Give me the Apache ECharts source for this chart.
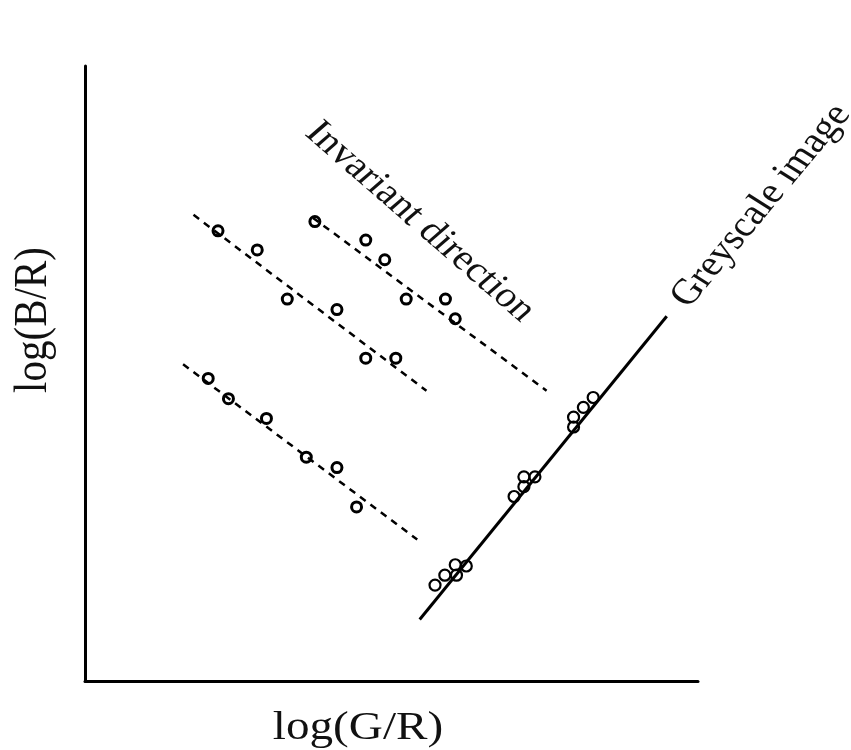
<!DOCTYPE html>
<html>
<head>
<meta charset="utf-8">
<script src="https://cdn.jsdelivr.net/npm/echarts@6/dist/echarts.min.js"></script>
<style>html,body{margin:0;padding:0;background:#fff;}#chart{width:851px;height:750px;}</style>
</head>
<body>
<div id="chart"></div>
<script>
// Data (arbitrary units, 0-100 on both axes)
var groupUpperLeft = [[21.7,73.2],[28.1,70.1],[33.0,62.1],[41.1,60.4],[45.8,52.5],[50.7,52.5]];
var lineUpperLeft = [[17.7,75.8],[55.7,47.2]];
var groupUpperRight = [[37.5,74.7],[45.8,71.7],[48.9,68.5],[52.4,62.1],[58.8,62.1],[60.4,58.9]];
var lineUpperRight = [[37.2,75.3],[75.3,47.2]];
var groupLower = [[20.1,49.2],[23.4,45.9],[29.6,42.7],[36.1,36.4],[41.1,34.7],[44.3,28.3]];
var lineLower = [[16.0,51.5],[54.2,23.0]];
var greyPoints = [[57.1,15.6],[58.7,17.2],[60.4,18.9],[60.6,17.2],[62.2,18.7],[70.0,30.0],[71.6,31.6],[71.6,33.2],[73.4,33.2],[79.7,41.3],[79.7,42.9],[81.3,44.5],[82.9,46.1]];
var greyLine = [[54.6,10.0],[94.9,59.3]];
var xAxisName = 'log(G/R)';
var yAxisName = 'log(B/R)';
var invariantLabel = 'Invariant direction';
var greyLabel = 'Greyscale image';

var FONT = "'Liberation Serif','DejaVu Serif',serif";
var SX = 1.15; // horizontal stretch of the reference

function dashed(data){
  return {type:'line', data:data, showSymbol:false, symbol:'none', silent:true, z:2,
    lineStyle:{color:'#000', width:2.5, type:[7,6], opacity:1}};
}
function pts(data, size, bw){
  return {type:'scatter', data:data, symbol:'circle', symbolSize:size, z:3, silent:true,
    itemStyle:{color:'rgba(255,255,255,0)', borderColor:'#000', borderWidth:bw, opacity:1}};
}

var chart = echarts.init(document.getElementById('chart'), null, {renderer:'canvas'});
chart.setOption({
  backgroundColor:'#fff',
  animation:false,
  grid:{left:85, right:153, top:66, bottom:69},
  xAxis:{type:'value', min:0, max:100, axisLine:{show:true, onZero:false, lineStyle:{color:'#000', width:3}},
    axisTick:{show:false}, axisLabel:{show:false}, splitLine:{show:false}},
  yAxis:{type:'value', min:0, max:100, axisLine:{show:true, onZero:false, lineStyle:{color:'#000', width:3}},
    axisTick:{show:false}, axisLabel:{show:false}, splitLine:{show:false}},
  series:[
    dashed(lineUpperLeft), dashed(lineUpperRight), dashed(lineLower),
    {type:'line', data:greyLine, showSymbol:false, symbol:'none', silent:true, z:2,
      lineStyle:{color:'#000', width:3}},
    pts(groupUpperLeft, 10, 3), pts(groupUpperRight, 10, 3), pts(groupLower, 10, 3),
    pts(greyPoints, 11, 2.2)
  ],
  graphic:[{
    type:'group', x:0, y:0, scaleX:SX, scaleY:1, silent:true,
    children:[
      {type:'text', x:358/SX, y:728, style:{text:xAxisName, font:'41px '+FONT, fill:'#111', align:'center', verticalAlign:'middle'}},
      {type:'text', x:34/SX, y:320, rotation:Math.PI/2, style:{text:yAxisName, font:'41px '+FONT, fill:'#111', align:'center', verticalAlign:'middle'}},
      {type:'text', x:420/SX, y:222, rotation:-45*Math.PI/180, style:{text:invariantLabel, font:'36px '+FONT, fill:'#111', align:'center', verticalAlign:'middle'}},
      {type:'text', x:761/SX, y:206, rotation:54*Math.PI/180, style:{text:greyLabel, font:'36px '+FONT, fill:'#111', align:'center', verticalAlign:'middle'}}
    ]
  }]
});
</script>
</body>
</html>
